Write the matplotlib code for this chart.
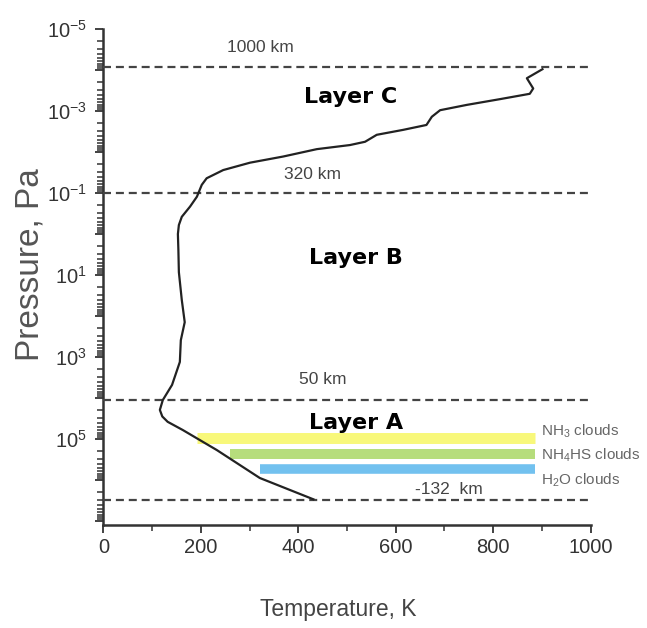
import numpy as np
import matplotlib
matplotlib.use("Agg")
import matplotlib.pyplot as plt
import matplotlib.font_manager as fm
from matplotlib.ticker import LogLocator, FuncFormatter, MultipleLocator

# temperature profile (K) vs pressure (Pa)
temp = [901, 869, 882, 875, 814, 746, 691, 674, 663, 615, 561, 537, 506, 438,
        369, 301, 246, 212, 202, 192, 178, 161, 155, 153, 154, 155, 161, 167, 159,
        157, 141, 122, 116, 121, 132, 163, 233, 321, 431]
logp = [-4.02, -3.80, -3.55, -3.42, -3.29, -3.15, -3.02, -2.86, -2.66, -2.54,
        -2.42, -2.25, -2.17, -2.07, -1.89, -1.74, -1.56, -1.36, -1.20, -0.91,
        -0.67, -0.42, -0.22, 0.0, 0.39, 0.93, 1.61, 2.15, 2.59, 3.12, 3.68, 4.05,
        4.29, 4.45, 4.58, 4.78, 5.27, 5.95, 6.47]
pressure = [10 ** v for v in logp]

# layer boundaries
bound_p = [8.5e-5, 1.0e-1, 1.12e4, 3.1e6]
bound_labels = ["1000 km", "320 km", "50 km", "-132  km"]
bound_label_t = [322, 430, 451, 710]
bound_label_p = [2.8e-5, 3.6e-2, 3.6e3, 1.75e6]

layer_names = ["Layer C", "Layer B", "Layer A"]
layer_t = [508, 518, 518]
layer_p = [4.6e-4, 3.8, 4.1e4]

# cloud decks
cloud_names = ["NH$_3$ clouds", "NH$_4$HS clouds", "H$_2$O clouds"]
cloud_p = [9.4e4, 2.3e5, 5.3e5]
cloud_tmin = [192, 260, 322]
cloud_tmax = [886, 886, 886]
cloud_colors = ["#f8f87a", "#b6dd7c", "#72c1ef"]
cloud_label_p = [6.4e4, 2.45e5, 9.8e5]

names = {f.name for f in fm.fontManager.ttflist}
narrow = "Liberation Sans Narrow" if "Liberation Sans Narrow" in names else "Liberation Sans"
plt.rcParams["font.family"] = narrow
plt.rcParams["mathtext.fontset"] = "custom"
plt.rcParams["mathtext.rm"] = narrow

fig = plt.figure(figsize=(6.47, 6.28), dpi=100)
ax = fig.add_axes([0.1597, 0.164, 0.7533, 0.7898])

ax.set_yscale("log")
ax.set_xlim(0, 1000)
ax.set_ylim(1.25e7, 1e-5)

# clouds
for p, t0, t1, c, lw in zip(cloud_p, cloud_tmin, cloud_tmax, cloud_colors, [7.9, 7.2, 6.9]):
    ax.hlines(p, t0, t1, colors=c, linewidth=lw, capstyle="butt", zorder=2)
for name, p in zip(cloud_names, cloud_label_p):
    ax.text(897, p, name, fontsize=11, color="#666666", va="center", ha="left")

# boundaries
for p in bound_p:
    ax.hlines(p, 0, 995, colors="#444444", linewidth=1.6, linestyles=(0, (3.6, 2.2)), zorder=3)
for lab, t, p in zip(bound_labels, bound_label_t, bound_label_p):
    ax.text(t, p, lab, fontsize=12.5, color="#444444", ha="center", va="center")

for name, t, p in zip(layer_names, layer_t, layer_p):
    ax.text(t, p, name, fontsize=16, fontweight="bold", family="DejaVu Sans",
            color="black", ha="center", va="center", zorder=4)

ax.plot(temp, pressure, color="#222222", linewidth=1.6, zorder=5)

# axes styling
for s in ["top", "right"]:
    ax.spines[s].set_visible(False)
for s in ["left", "bottom"]:
    ax.spines[s].set_linewidth(1.8)
    ax.spines[s].set_color("#333333")

ax.xaxis.set_major_locator(MultipleLocator(200))
ax.xaxis.set_minor_locator(MultipleLocator(100))
ax.yaxis.set_major_locator(LogLocator(base=10, numticks=30))
ax.yaxis.set_minor_locator(LogLocator(base=10, subs=np.arange(2, 10), numticks=30))


def ylab(v, pos):
    e = int(round(np.log10(v)))
    if e % 2 == 0 or e > 5:
        return ""
    return r"$\mathregular{10^{%d}}$" % e


ax.yaxis.set_major_formatter(FuncFormatter(ylab))
ax.tick_params(axis="both", which="major", length=6, width=1.3, color="#333333",
               labelsize=14.5, labelcolor="#333333")
ax.tick_params(axis="both", which="minor", length=4, width=1.1, color="#333333")
ax.tick_params(axis="y", pad=6)

ax.set_xlabel("Temperature, K", fontsize=16.5, color="#444444", va="center")
ax.xaxis.set_label_coords(0.482, -0.171)
ax.set_ylabel("Pressure, Pa", fontsize=24, color="#555555", va="center")
ax.yaxis.set_label_coords(-0.150, 0.524)

fig.savefig("out.png", dpi=100)
